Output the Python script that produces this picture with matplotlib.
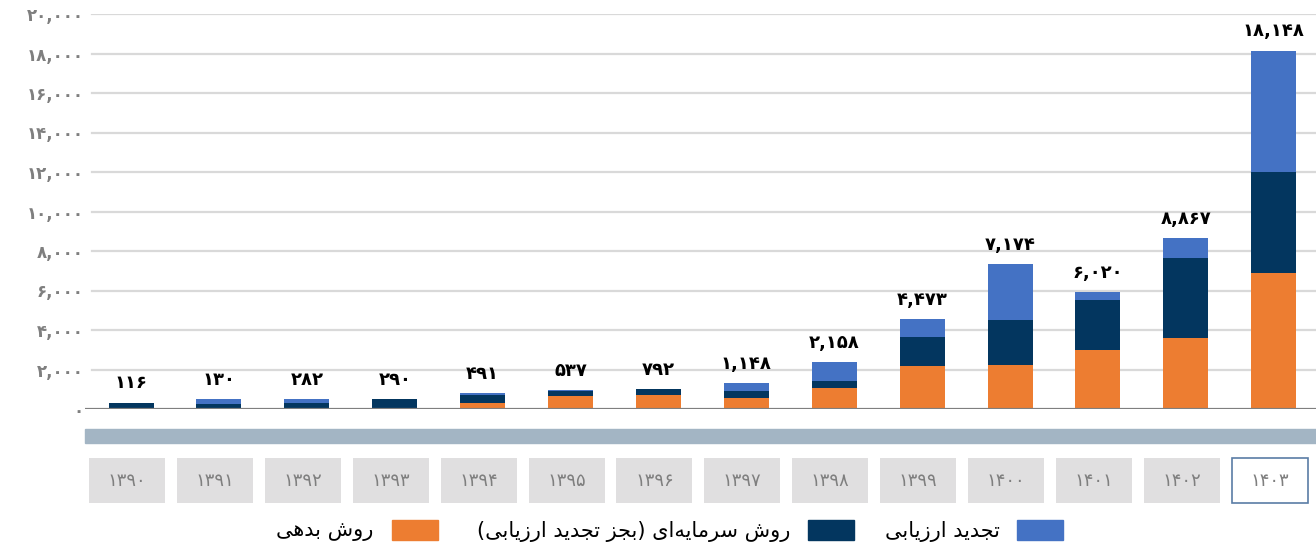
import matplotlib
matplotlib.use("Agg")
import matplotlib.pyplot as plt
from matplotlib.patches import Rectangle

years = ["1390", "1391", "1392", "1393", "1394", "1395", "1396",
         "1397", "1398", "1399", "1400", "1401", "1402", "1403"]
debt = [0, 0, 0, 0, 300, 660, 710, 560, 1060, 2170, 2220, 2980, 3590, 6870]
capital = [320, 270, 320, 485, 400, 250, 300, 350, 350, 1470, 2270, 2530, 4040, 5150]
reval = [0, 215, 165, 0, 100, 50, 0, 400, 960, 910, 2830, 400, 1010, 6110]
totals = [116, 130, 282, 290, 491, 537, 792, 1148, 2158, 4473, 7174, 6020, 8867, 18148]
yticks = list(range(0, 20001, 2000))

legend_names = ["روش بدهی", "روش سرمایه\u200cای (بجز تجدید ارزیابی)", "تجدید ارزیابی"]

c_debt = "#ED7D31"
c_cap = "#03365F"
c_rev = "#4472C4"

# ---- tiny arabic/persian shaper (matplotlib has no text shaping) ----
FORMS = {
    "ا": (0xFE8D, 0xFE8E, None, None),
    "ب": (0xFE8F, 0xFE90, 0xFE91, 0xFE92),
    "ت": (0xFE95, 0xFE96, 0xFE97, 0xFE98),
    "ج": (0xFE9D, 0xFE9E, 0xFE9F, 0xFEA0),
    "د": (0xFEA9, 0xFEAA, None, None),
    "ر": (0xFEAD, 0xFEAE, None, None),
    "ز": (0xFEAF, 0xFEB0, None, None),
    "س": (0xFEB1, 0xFEB2, 0xFEB3, 0xFEB4),
    "ش": (0xFEB5, 0xFEB6, 0xFEB7, 0xFEB8),
    "م": (0xFEE1, 0xFEE2, 0xFEE3, 0xFEE4),
    "و": (0xFEED, 0xFEEE, None, None),
    "ه": (0xFEE9, 0xFEEA, 0xFEEB, 0xFEEC),
    "ی": (0xFEEF, 0xFEF0, 0xFEF3, 0xFEF4),
}
MIRROR = {"(": ")", ")": "("}


def shape(txt):
    out = []
    n = len(txt)
    for i, ch in enumerate(txt):
        if ch == "\u200c":
            continue
        if ch not in FORMS:
            out.append(MIRROR.get(ch, ch))
            continue
        f = FORMS[ch]
        prev = txt[i - 1] if i > 0 else ""
        nxt = txt[i + 1] if i + 1 < n else ""
        jp = prev in FORMS and FORMS[prev][2] is not None
        jn = nxt in FORMS and f[2] is not None
        if jp and jn:
            code = f[3]
        elif jp:
            code = f[1]
        elif jn:
            code = f[2]
        else:
            code = f[0]
        out.append(chr(code))
    return "".join(out[::-1])


PD = str.maketrans("0123456789", "۰۱۲۳۴۵۶۷۸۹")


def fa(v):
    return f"{v:,}".translate(PD)


W, H = 1316, 552
fig = plt.figure(figsize=(W / 100, H / 100), dpi=100)


def fx(px):
    return px / W


def fy(py):
    return 1 - py / H


# main axes: x from 85 to 1316 px, y baseline at 409 px, 20000 at 14 px
ax = fig.add_axes([fx(85), fy(409), fx(1316 - 85), (409 - 14) / H])
x = list(range(len(years)))
step = 87.9
x0 = (85 - 131) / step
x1 = (1316 - 131) / step
ax.set_xlim(x0, x1)
ax.set_ylim(0, 20000)
for s in ax.spines.values():
    s.set_visible(False)
ax.set_xticks([])
for t in yticks[1:]:
    ax.axhline(t, xmin=7 / 1231, color="#D9D9D9", lw=1.6, zorder=0)
ax.axhline(0, color="#7F7F7F", lw=2.3, zorder=3)

bw = 45 / step
bottom2 = [a + b for a, b in zip(debt, capital)]
ax.bar(x, debt, bw, color=c_debt, zorder=2)
ax.bar(x, capital, bw, bottom=debt, color=c_cap, zorder=2)
ax.bar(x, reval, bw, bottom=bottom2, color=c_rev, zorder=2)

for i, t in enumerate(totals):
    top = debt[i] + capital[i] + reval[i]
    ax.annotate(fa(t), (i, top), xytext=(0, 14), textcoords="offset points",
                ha="center", va="center", fontsize=13, fontweight="bold",
                color="black", clip_on=False)

ax.set_yticks(yticks)
ax.set_yticklabels([fa(t) for t in yticks], fontsize=12, fontweight="bold",
                   color="#7F7F7F")
ax.tick_params(axis="y", length=0, pad=1)

# steel band
fig.patches.append(Rectangle((fx(85), fy(443)), fx(1316 - 85), 14 / H,
                             transform=fig.transFigure, color="#A3B5C4"))

# category boxes
cax = fig.add_axes([fx(85), fy(505), fx(1316 - 85), 50 / H])
cax.set_xlim(x0, x1)
cax.set_ylim(0, 50)
cax.axis("off")
bwid = 76 / step
for i, y in enumerate(years):
    c = i - 4 / step
    if i == len(years) - 1:
        cax.add_patch(Rectangle((c - bwid / 2, 2), bwid, 45, facecolor="white",
                                edgecolor="#5A7DA6", lw=1.2))
    else:
        cax.add_patch(Rectangle((c - bwid / 2, 2), bwid, 45, facecolor="#E0DFE0",
                                edgecolor="none"))
    cax.text(c, 24.5, y.translate(PD), ha="center", va="center", fontsize=13,
             color="#7F7F7F")

# legend (right to left)
leg = [(1017, 1000, c_rev, legend_names[2]),
       (808, 790, c_cap, legend_names[1]),
       (392, 373, c_debt, legend_names[0])]
for px, tx, col, name in leg:
    fig.patches.append(Rectangle((fx(px), fy(540)), fx(46), 20 / H,
                                 transform=fig.transFigure, color=col))
    fig.text(fx(tx), fy(531), shape(name), ha="right", va="center",
             fontsize=15, color="black")

fig.savefig("out.png", dpi=100)
